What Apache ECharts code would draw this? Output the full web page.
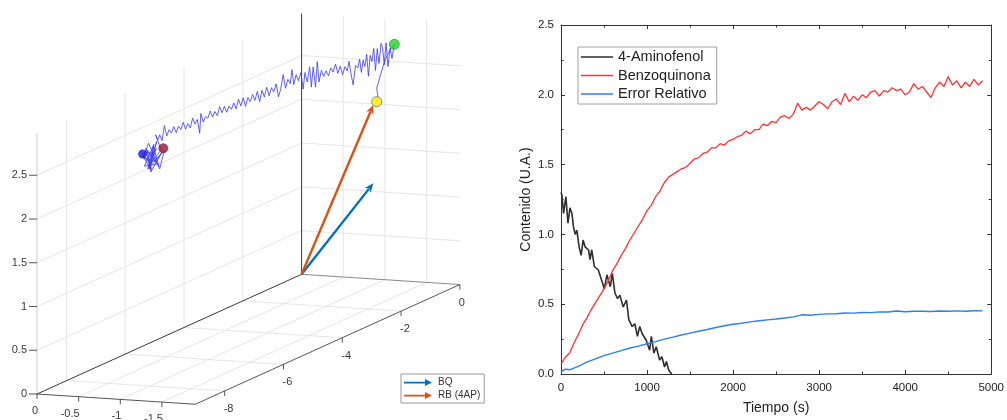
<!DOCTYPE html>
<html><head><meta charset="utf-8">
<script src="https://cdn.jsdelivr.net/npm/echarts@6/dist/echarts.min.js"></script>
<style>html,body{margin:0;padding:0;background:#fff}#c{width:1007px;height:420px}</style>
</head><body><div id="c"></div>
<script>
// ---------- right panel data ----------
const aminoT=[0,11,30,57,81,104,127,146,165,184,211,234,257,280,319,338,357,388,434,473,503,534,573,596,627,657,684,723,761,788,827,858,888,915,942,992,1030,1050,1080,1107,1146,1173,1203,1226,1250,1273,1288];
const aminoV=[1.30,1.28,1.15,1.27,1.08,1.19,1.15,1.05,1.00,1.03,0.91,0.85,0.96,0.91,0.89,0.82,0.89,0.77,0.745,0.67,0.61,0.71,0.625,0.72,0.58,0.54,0.565,0.48,0.53,0.39,0.34,0.36,0.27,0.34,0.29,0.24,0.17,0.27,0.15,0.195,0.10,0.124,0.05,0.09,0.03,0.01,0.0];
const benzoT=[0,50,100,150,200,250,300,350,400,450,500,550,600,650,700,750,800,850,900,950,1000,1050,1100,1150,1200,1250,1300,1350,1400,1450,1500,1550,1600,1650,1700,1750,1800,1850,1900,1950,2000,2050,2100,2150,2200,2250,2300,2350,2400,2450,2500,2550,2600,2650,2700,2750,2800,2850,2900,2950,3000,3050,3100,3150,3200,3250,3300,3350,3400,3450,3500,3550,3600,3650,3700,3750,3800,3850,3900,3950,4000,4050,4100,4150,4200,4250,4300,4350,4400,4450,4500,4550,4600,4650,4700,4750,4800,4850,4900];
const benzoV=[0.07,0.12,0.15,0.22,0.28,0.35,0.40,0.46,0.51,0.56,0.61,0.67,0.74,0.79,0.85,0.90,0.96,1.01,1.06,1.11,1.17,1.21,1.27,1.31,1.37,1.41,1.43,1.45,1.47,1.48,1.51,1.54,1.55,1.58,1.59,1.62,1.62,1.65,1.64,1.67,1.68,1.70,1.71,1.74,1.72,1.75,1.75,1.79,1.78,1.81,1.80,1.84,1.85,1.83,1.86,1.94,1.89,1.91,1.89,1.92,1.95,1.93,1.90,1.95,1.97,1.93,2.01,1.95,1.99,1.96,2.00,1.98,2.02,2.03,1.99,2.03,2.02,2.05,2.03,2.04,2.00,2.02,2.08,2.04,2.06,2.02,1.98,2.05,2.09,2.06,2.13,2.07,2.10,2.05,2.09,2.06,2.11,2.07,2.10];
const errT=[0,50,100,200,300,400,500,600,700,800,900,1000,1100,1200,1300,1400,1500,1600,1700,1800,1900,2000,2100,2200,2300,2400,2500,2600,2700,2800,2900,3000,3100,3200,3300,3400,3500,3600,3700,3800,3900,4000,4100,4200,4300,4400,4500,4600,4700,4800,4900];
const errV=[0.015,0.035,0.03,0.055,0.085,0.108,0.132,0.15,0.168,0.186,0.2,0.217,0.232,0.25,0.264,0.279,0.293,0.306,0.319,0.333,0.346,0.356,0.364,0.373,0.381,0.388,0.394,0.401,0.409,0.424,0.421,0.427,0.431,0.432,0.437,0.436,0.441,0.44,0.445,0.444,0.451,0.446,0.45,0.449,0.448,0.451,0.449,0.452,0.45,0.453,0.452];
const seriesNames=['4-Aminofenol','Benzoquinona','Error Relativo'];

// ---------- left 3D panel data ----------
const xLim3=[-1.9,0], yLim3=[-9,0], zLim3=[0,2.98];
const xTicks3=[0,-0.5,-1,-1.5], xTickLabels3=['0','-0.5','-1','-1.5'];
const yTicks3=[0,-2,-4,-6,-8], yTickLabels3=['0','-2','-4','-6','-8'];
const zTicks3=[0,0.5,1,1.5,2,2.5], zTickLabels3=['0','0.5','1','1.5','2','2.5'];
const vecBQ=[-1.12,-0.735,1.22];
const vecRB=[-1.12,-0.735,2.116];
const arrowNames=['BQ','RB (4AP)'];
const pointYellow=[-1.12,-0.62,2.136];
const pointGreen=[-1.12,-0.02,2.70];
const pointRed=[-1.12,-7.878,2.707];
const pointBlue=[-1.12,-8.58,2.748];
// trajectory: x is constant (-1.12); [y, z] pairs
const trajX=-1.12;
const trajYZ=[
[-0.62,2.136],[-0.575,2.186],[-0.62,2.289],[-0.507,2.404],[-0.337,2.57],[-0.167,2.658],[-0.02,2.70],
[-0.10,2.55],[-0.16,2.68],[-0.235,2.48],[-0.30,2.76],[-0.36,2.52],[-0.42,2.72],[-0.47,2.78],[-0.54,2.56],[-0.60,2.74],[-0.66,2.50],[-0.72,2.76],
[-0.78,2.62],[-0.84,2.70],[-0.90,2.47],[-0.96,2.73],[-1.02,2.60],[-1.08,2.68],[-1.14,2.55],[-1.20,2.71],[-1.26,2.62],[-1.34,2.66],[-1.42,2.45],
[-1.50,2.60],[-1.56,2.74],[-1.62,2.64],[-1.70,2.70],[-1.78,2.62],[-1.86,2.73],[-1.94,2.66],[-2.02,2.78],[-2.10,2.70],[-2.18,2.76],[-2.26,2.68],
[-2.34,2.75],[-2.42,2.70],[-2.50,2.78],[-2.58,2.66],[-2.64,2.90],[-2.70,2.62],[-2.78,2.86],[-2.84,2.64],[-2.90,2.88],[-2.98,2.72],[-3.06,2.84],
[-3.12,2.66],[-3.20,2.86],[-3.28,2.78],[-3.36,2.86],[-3.44,2.76],[-3.50,2.94],[-3.56,2.79],[-3.64,2.85],[-3.72,2.76],[-3.80,2.93],[-3.88,2.78],
[-3.96,2.70],[-4.04,2.86],[-4.12,2.78],[-4.20,2.84],[-4.28,2.76],[-4.36,2.87],[-4.44,2.77],[-4.52,2.86],[-4.60,2.74],[-4.68,2.87],[-4.76,2.78],
[-4.84,2.86],[-4.92,2.79],[-5.00,2.85],[-5.08,2.76],[-5.16,2.87],[-5.24,2.79],[-5.32,2.88],[-5.40,2.78],[-5.48,2.86],[-5.56,2.80],[-5.64,2.85],
[-5.72,2.79],[-5.80,2.87],[-5.88,2.81],[-5.96,2.89],[-6.04,2.80],[-6.12,2.86],[-6.20,2.81],[-6.28,2.89],[-6.36,2.82],[-6.44,2.85],[-6.52,2.80],
[-6.60,2.91],[-6.64,2.69],[-6.72,2.86],[-6.80,2.82],[-6.88,2.90],[-6.96,2.80],[-7.04,2.86],[-7.12,2.81],[-7.20,2.90],[-7.28,2.83],[-7.36,2.88],
[-7.44,2.82],[-7.52,2.90],[-7.60,2.84],[-7.68,2.89],[-7.76,2.83],[-7.84,2.96],[-7.92,2.80],[-8.00,2.88],[-8.06,2.83],[-8.14,2.90],
[-7.95,2.70],[-8.30,2.60],[-8.10,2.82],[-8.40,2.55],[-8.22,2.78],[-8.02,2.52],[-8.48,2.80],[-8.30,2.50],[-7.92,2.67],[-8.16,2.60],[-8.56,2.70],
[-8.38,2.84],[-8.00,2.49],[-7.84,2.68],[-8.26,2.58],[-8.45,2.66],[-8.12,2.74],[-8.34,2.54],[-8.20,2.80],[-8.52,2.60],[-8.08,2.56],[-8.42,2.76],
[-8.28,2.52],[-8.60,2.74],[-8.36,2.64],[-8.18,2.70],[-8.50,2.75],[-8.58,2.748]
];

// ---------- layout / projection (view settings, not data) ----------
const F="'Liberation Sans', Arial, Helvetica, sans-serif";
const ORIGIN_PX=[301.6,274.3], X_DIR=[-83.3,-5.4], Y_DIR=[29.4,-13.3], Z_DIR=[0,-87.5];
function proj(p){
  return [ORIGIN_PX[0]+X_DIR[0]*p[0]+Y_DIR[0]*p[1]+Z_DIR[0]*p[2],
          ORIGIN_PX[1]+X_DIR[1]*p[0]+Y_DIR[1]*p[1]+Z_DIR[1]*p[2]];
}
function pairs(t,v){const n=Math.min(t.length,v.length);const o=[];for(let i=0;i<n;i++)o.push([t[i],v[i]]);return o;}

function renderBox(params, api){
  const P=p=>api.coord(proj(p));
  const ch=[];
  const seg=(A,B,color,w)=>ch.push({type:'line',shape:{x1:A[0],y1:A[1],x2:B[0],y2:B[1]},style:{stroke:color,lineWidth:w}});
  const seg3=(a,b,color,w)=>seg(P(a),P(b),color,w);
  const txt=(x,y,s,align)=>ch.push({type:'text',style:{x:x,y:y,text:s,align:align,textAlign:align,verticalAlign:'middle',textVerticalAlign:'middle',fill:'#3a3a3a',fontSize:11,fontFamily:F}});
  const g='#e6e6e6', x0=xLim3[0], y0=yLim3[0], zt=zLim3[1];
  xTicks3.forEach(x=>{if(x!==0)seg3([x,y0,0],[x,0,0],g,1);});
  yTicks3.forEach(y=>{if(y!==0)seg3([0,y,0],[x0,y,0],g,1);});
  yTicks3.forEach(y=>{if(y!==0)seg3([0,y,0],[0,y,zt],g,1);});
  zTicks3.forEach(z=>{if(z!==0)seg3([0,y0,z],[0,0,z],g,1);});
  xTicks3.forEach(x=>{if(x!==0)seg3([x,0,0],[x,0,zt],g,1);});
  zTicks3.forEach(z=>{if(z!==0)seg3([0,0,z],[x0,0,z],g,1);});
  seg3([0,y0,0],[0,y0,zt],'#cdcdcd',1);
  seg3([0,0,0],[x0,0,0],'#8a8a8a',1);
  seg3([0,y0,0],[0,0,0],'#3a3a3a',1);
  seg3([0,0,0],[0,0,zt],'#3a3a3a',1);
  seg3([0,y0,0],[x0,y0,0],'#555',1);
  seg3([x0,y0,0],[x0,0,0],'#555',1);
  zTicks3.forEach((z,i)=>{const A=P([0,y0,z]);seg([A[0]-8,A[1]],A,'#555',1);txt(A[0]-10,A[1],zTickLabels3[i],'right');});
  xTicks3.forEach((x,i)=>{const A=P([x,y0,0]);seg(A,[A[0],A[1]+5],'#555',1);txt(A[0]+1,A[1]+17,xTickLabels3[i],'right');});
  yTicks3.forEach((y,i)=>{const A=P([x0,y,0]);seg(A,[A[0],A[1]+5],'#555',1);txt(A[0]-1,A[1]+18,yTickLabels3[i],'left');});
  return {type:'group',children:ch};
}
function renderArrow(params, api){
  const tip=[api.value(0),api.value(1),api.value(2)];
  const A=api.coord(proj([0,0,0])), B=api.coord(proj(tip));
  const dx=B[0]-A[0], dy=B[1]-A[1], L=Math.hypot(dx,dy), ux=dx/L, uy=dy/L;
  const hl=9, hw=3.8, bx=B[0]-ux*hl, by=B[1]-uy*hl;
  const color=api.visual('color');
  return {type:'group',children:[
    {type:'line',shape:{x1:A[0],y1:A[1],x2:bx+ux*2,y2:by+uy*2},style:{stroke:color,lineWidth:2.4}},
    {type:'polygon',shape:{points:[[B[0],B[1]],[bx-uy*hw,by+ux*hw],[bx+ux*2.5,by+uy*2.5],[bx+uy*hw,by-ux*hw]]},style:{fill:color}}
  ]};
}

const axisCol='#333';
const tickCommon={inside:true,length:4,lineStyle:{color:axisCol}};
const minorCommon={show:true,splitNumber:2,length:2.5,lineStyle:{color:axisCol}};
const arrowIcon='path://M0,4 L24,4 L24,1 L32,5 L24,9 L24,6 L0,6 Z';
const lineIcon='path://M0,0 L0.01,0 L0,0.01 Z M0,6.3 L32,6.3 L32,7.7 L0,7.7 Z M0,14 L0.01,14 L0,13.99 Z';

const option={
  animation:false,
  backgroundColor:'#fff',
  grid:[
    {left:561,right:13,top:25,bottom:46},
    {left:0,top:0,width:500,height:420}
  ],
  legend:[
    {data:seriesNames.map(n=>({name:n,icon:lineIcon})),left:578,top:47,orient:'vertical',itemWidth:32,itemHeight:14,itemGap:2.5,
     padding:[2,6,2,3],borderColor:'#a0a0a0',borderWidth:1,backgroundColor:'#fff',selectedMode:false,
     textStyle:{fontSize:14.5,lineHeight:16,color:'#222',fontFamily:F}},
    {data:arrowNames.map(n=>({name:n,icon:arrowIcon})),left:401,top:374,orient:'vertical',itemWidth:30,itemHeight:7,itemGap:2,
     padding:[3,4,2,3],borderColor:'#999',borderWidth:1,backgroundColor:'#fff',selectedMode:false,
     textStyle:{fontSize:10,lineHeight:11,color:'#333',fontFamily:F}}
  ],
  xAxis:[
    {gridIndex:0,type:'value',min:0,max:5000,interval:1000,name:'Tiempo (s)',nameLocation:'middle',nameGap:27,
     nameTextStyle:{fontSize:14,color:'#222',fontFamily:F},
     axisLine:{onZero:false,lineStyle:{color:axisCol,width:1}},axisTick:tickCommon,minorTick:minorCommon,
     axisLabel:{fontSize:11.5,color:'#222',margin:8,fontFamily:F,formatter:v=>String(v)},splitLine:{show:false}},
    {gridIndex:0,type:'value',position:'top',min:0,max:5000,interval:1000,
     axisLine:{onZero:false,lineStyle:{color:axisCol,width:1}},axisTick:tickCommon,minorTick:minorCommon,
     axisLabel:{show:false},splitLine:{show:false}},
    {gridIndex:1,type:'value',min:0,max:500,show:false}
  ],
  yAxis:[
    {gridIndex:0,type:'value',min:0,max:2.5,interval:0.5,name:'Contenido (U.A.)',nameLocation:'middle',nameGap:28,
     nameTextStyle:{fontSize:14,color:'#222',fontFamily:F},
     axisLine:{onZero:false,lineStyle:{color:axisCol,width:1}},axisTick:tickCommon,minorTick:minorCommon,
     axisLabel:{fontSize:11.5,color:'#222',margin:7,fontFamily:F,formatter:v=>v.toFixed(1)},splitLine:{show:false}},
    {gridIndex:0,type:'value',position:'right',min:0,max:2.5,interval:0.5,
     axisLine:{onZero:false,lineStyle:{color:axisCol,width:1}},axisTick:tickCommon,minorTick:minorCommon,
     axisLabel:{show:false},splitLine:{show:false}},
    {gridIndex:1,type:'value',min:0,max:420,inverse:true,show:false}
  ],
  series:[
    {name:seriesNames[0],type:'line',xAxisIndex:0,yAxisIndex:0,data:pairs(aminoT,aminoV),symbol:'none',
     lineStyle:{color:'#2e2e2e',width:1.6},itemStyle:{color:'#2e2e2e'},z:3},
    {name:seriesNames[1],type:'line',xAxisIndex:0,yAxisIndex:0,data:pairs(benzoT,benzoV),symbol:'none',
     lineStyle:{color:'#ff3030',width:1.3},itemStyle:{color:'#ff3030'},z:4},
    {name:seriesNames[2],type:'line',xAxisIndex:0,yAxisIndex:0,data:pairs(errT,errV),symbol:'none',
     lineStyle:{color:'#2b7fef',width:1.4},itemStyle:{color:'#2b7fef'},z:4},
    {type:'custom',xAxisIndex:2,yAxisIndex:2,data:[[0,0]],renderItem:renderBox,silent:true,z:1},
    {type:'line',xAxisIndex:2,yAxisIndex:2,data:trajYZ.map(p=>proj([trajX,p[0],p[1]])),symbol:'none',silent:true,
     lineStyle:{color:'#3a3af2',width:1,opacity:0.8},z:3},
    {name:arrowNames[0],type:'custom',xAxisIndex:2,yAxisIndex:2,data:[vecBQ],renderItem:renderArrow,
     itemStyle:{color:'#0072bd'},silent:true,z:4},
    {name:arrowNames[1],type:'custom',xAxisIndex:2,yAxisIndex:2,data:[vecRB],renderItem:renderArrow,
     itemStyle:{color:'#d95319'},silent:true,z:4},
    {type:'scatter',xAxisIndex:2,yAxisIndex:2,silent:true,z:5,symbolSize:9,
     data:[
       {value:proj(pointBlue),itemStyle:{color:'#1515e6'}},
       {value:proj(pointRed),itemStyle:{color:'#a8102c',borderColor:'#6a2060',borderWidth:0.8}},
       {value:proj(pointYellow),symbolSize:10,itemStyle:{color:'#ffee00',borderColor:'#555',borderWidth:0.8}},
       {value:proj(pointGreen),symbolSize:10,itemStyle:{color:'#1fd81f',borderColor:'#3a7a3a',borderWidth:0.8}}
     ]}
  ]
};
const chart=echarts.init(document.getElementById('c'),null,{renderer:'canvas'});
chart.setOption(option);
</script></body></html>
